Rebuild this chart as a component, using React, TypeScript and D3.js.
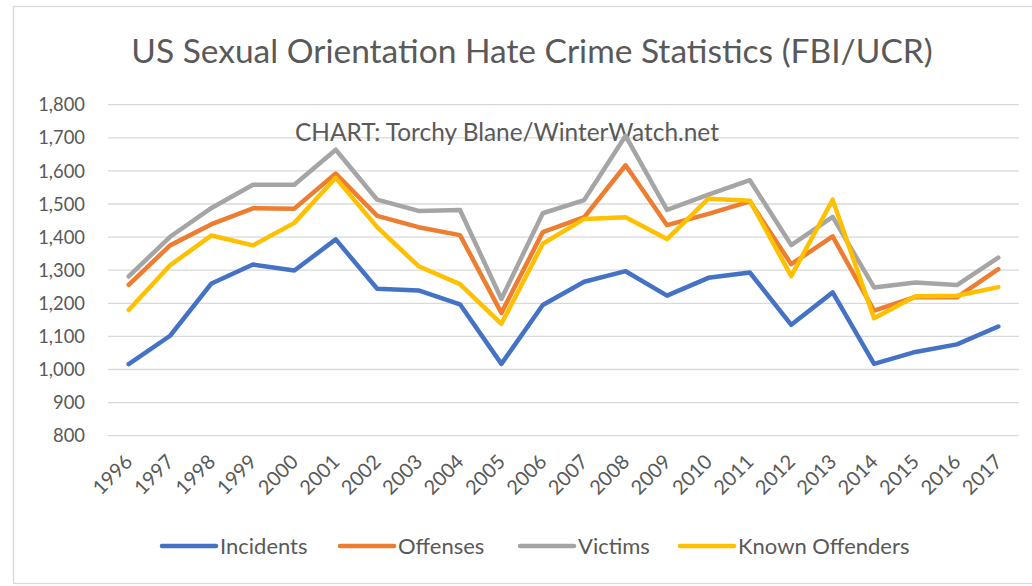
import { useEffect, useRef } from "react";
import * as d3 from "d3";

const years = [
  "1996", "1997", "1998", "1999", "2000", "2001", "2002", "2003", "2004", "2005", "2006",
  "2007", "2008", "2009", "2010", "2011", "2012", "2013", "2014", "2015", "2016", "2017",
];

const incidents = [
  1016, 1102, 1260, 1317, 1299, 1393, 1244, 1239, 1197, 1017, 1195,
  1265, 1297, 1223, 1277, 1293, 1135, 1233, 1017, 1053, 1076, 1130,
];
const offenses = [
  1256, 1375, 1439, 1487, 1486, 1592, 1464, 1430, 1406, 1171, 1415,
  1460, 1617, 1436, 1470, 1508, 1318, 1402, 1178, 1219, 1218, 1303,
];
const victims = [
  1281, 1401, 1488, 1558, 1558, 1664, 1513, 1479, 1482, 1213, 1472,
  1512, 1706, 1482, 1528, 1572, 1376, 1461, 1248, 1263, 1255, 1338,
];
const knownOffenders = [
  1180, 1315, 1405, 1375, 1443, 1579, 1430, 1312, 1258, 1138, 1380,
  1455, 1460, 1394, 1516, 1510, 1282, 1513, 1155, 1221, 1223, 1249,
];

const seriesNames = ["Incidents", "Offenses", "Victims", "Known Offenders"];
const seriesColors = ["#4472c4", "#ed7d31", "#a5a5a5", "#ffc000"];
const yTicks = [800, 900, 1000, 1100, 1200, 1300, 1400, 1500, 1600, 1700, 1800];

const W = 1032;
const H = 586;
const FONT = "Lato, 'Open Sans', sans-serif";
const TXT = "#595959";

export default function App() {
  const svgRef = useRef<SVGSVGElement | null>(null);

  useEffect(() => {
    if (!svgRef.current) return;
    const svg = d3.select(svgRef.current);
    svg.selectAll("*").remove();

    const plot = { left: 108, right: 1019, top: 104.7, bottom: 435.7 };

    const x = d3.scaleBand<string>().domain(years).range([plot.left, plot.right]);
    const cx = (d: string) => (x(d) as number) + x.bandwidth() / 2;
    const y = d3.scaleLinear().domain([800, 1800]).range([plot.bottom, plot.top]);

    // chart frame
    svg
      .append("rect")
      .attr("x", 13.5)
      .attr("y", 6.5)
      .attr("width", W)
      .attr("height", 577)
      .attr("fill", "#fff")
      .attr("stroke", "#d9d9d9")
      .attr("stroke-width", 1.3);

    // title
    svg
      .append("text")
      .attr("x", 532)
      .attr("y", 63)
      .attr("text-anchor", "middle")
      .attr("font-family", FONT)
      .attr("font-size", 33.5)
      .attr("fill", TXT)
      .text("US Sexual Orientation Hate Crime Statistics (FBI/UCR)");

    // gridlines
    svg
      .append("g")
      .selectAll("line")
      .data(yTicks)
      .join("line")
      .attr("x1", plot.left)
      .attr("x2", plot.right)
      .attr("y1", (d) => y(d))
      .attr("y2", (d) => y(d))
      .attr("stroke", "#d9d9d9")
      .attr("stroke-width", 1.3);

    // y tick labels
    svg
      .append("g")
      .selectAll("text")
      .data(yTicks)
      .join("text")
      .attr("x", 85)
      .attr("y", (d) => y(d))
      .attr("dy", "0.36em")
      .attr("text-anchor", "end")
      .attr("font-family", FONT)
      .attr("font-size", 18.4)
      .attr("fill", TXT)
      .text((d) => d3.format(",")(d));

    // x tick labels
    svg
      .append("g")
      .selectAll("text")
      .data(years)
      .join("text")
      .attr("transform", (d) => `translate(${cx(d)},${458}) rotate(-45)`)
      .attr("dy", "0.36em")
      .attr("text-anchor", "end")
      .attr("font-family", FONT)
      .attr("font-size", 20)
      .attr("fill", TXT)
      .text((d) => d);

    // annotation
    svg
      .append("text")
      .attr("x", 295)
      .attr("y", 141)
      .attr("font-family", FONT)
      .attr("font-size", 24.4)
      .attr("fill", TXT)
      .text("CHART: Torchy Blane/WinterWatch.net");

    const allSeries = [incidents, offenses, victims, knownOffenders];
    const line = d3
      .line<number>()
      .x((_, i) => cx(years[i]))
      .y((d) => y(d));

    allSeries.forEach((s, i) => {
      svg
        .append("path")
        .datum(s)
        .attr("fill", "none")
        .attr("stroke", seriesColors[i])
        .attr("stroke-width", 4.5)
        .attr("stroke-linejoin", "round")
        .attr("stroke-linecap", "round")
        .attr("d", line);
    });

    // legend
    const legendX = [162, 340, 520, 680];
    const legend = svg.append("g");
    seriesNames.forEach((name, i) => {
      legend
        .append("line")
        .attr("x1", legendX[i])
        .attr("x2", legendX[i] + 54)
        .attr("y1", 546)
        .attr("y2", 546)
        .attr("stroke", seriesColors[i])
        .attr("stroke-width", 4.5)
        .attr("stroke-linecap", "round");
      legend
        .append("text")
        .attr("x", legendX[i] + 58)
        .attr("y", 546)
        .attr("dy", "0.36em")
        .attr("font-family", FONT)
        .attr("font-size", 22)
        .attr("fill", TXT)
        .text(name);
    });
  }, []);

  return (
    <svg
      ref={svgRef}
      width={W}
      height={H}
      style={{ position: "absolute", left: 0, top: 0 }}
    />
  );
}
